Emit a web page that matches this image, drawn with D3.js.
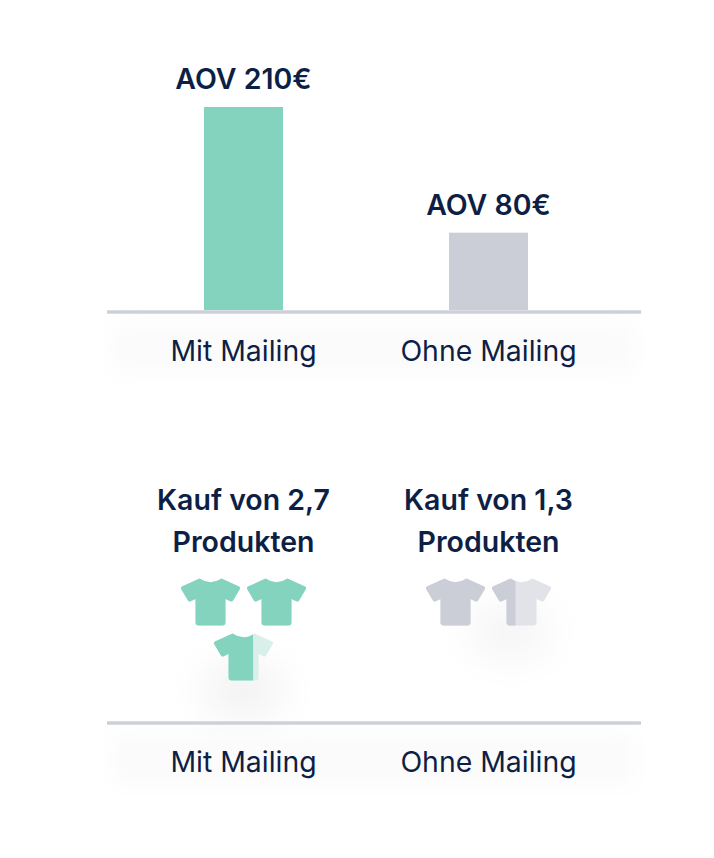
<!DOCTYPE html>
<html>
<head>
<meta charset="utf-8">
<script src="https://cdn.jsdelivr.net/npm/d3@7"></script>
<style>
  html, body { margin: 0; padding: 0; background: #fff; }
  svg { display: block; }
  text { font-family: Inter, "Noto Sans", sans-serif; fill: #0e1f45; }
  .title { font-size: 28.5px; font-weight: 600; text-anchor: middle; }
  .tick text { font-size: 28.4px; font-weight: 400; }
</style>
</head>
<body>
<div id="chart"></div>
<script>
const categories = ["Mit Mailing", "Ohne Mailing"];
const aov = [210, 80];
const aovLabels = ["AOV 210€", "AOV 80€"];
const productLines = [["Kauf von 2,7", "Produkten"], ["Kauf von 1,3", "Produkten"]];
// how much of each shirt is filled
const shirtFill = [[1, 1, 0.66], [1, 0.4]];
const colors = ["#83d3bf", "#cbced7"];
const lightColors = ["#d9f0ea", "#e1e3e8"];

const width = 714, height = 858;
const baseTop = 310, baseBottom = 721;

const svg = d3.select("#chart").append("svg")
    .attr("width", width)
    .attr("height", height);

const defs = svg.append("defs");
defs.append("filter").attr("id", "soft")
    .attr("x", "-50%").attr("y", "-50%").attr("width", "200%").attr("height", "200%")
    .append("feGaussianBlur").attr("stdDeviation", 12);
defs.append("filter").attr("id", "softer")
    .attr("x", "-80%").attr("y", "-80%").attr("width", "260%").attr("height", "260%")
    .append("feGaussianBlur").attr("stdDeviation", 22);

const x = d3.scaleBand()
    .domain(categories)
    .range([121, 611])
    .paddingInner(0.6776)
    .paddingOuter(0.3388);

const y = d3.scaleLinear().domain([0, 210]).range([baseTop, 107]);

// faint bands behind the axis labels
[baseTop, baseBottom].forEach((b) => {
    svg.append("rect")
        .attr("x", 112).attr("y", b + 12)
        .attr("width", 524).attr("height", 52)
        .attr("fill", "#fbfbfc")
        .attr("filter", "url(#soft)");
});

// shadows under the shirts
svg.append("ellipse")
    .attr("cx", 243).attr("cy", 690).attr("rx", 38).attr("ry", 22)
    .attr("fill", "#ededef").attr("filter", "url(#softer)");
svg.append("ellipse")
    .attr("cx", 510).attr("cy", 632).attr("rx", 38).attr("ry", 22)
    .attr("fill", "#f1f1f3").attr("filter", "url(#softer)");

// top chart
svg.selectAll(".bar")
    .data(categories)
    .enter()
    .append("rect")
    .attr("class", "bar")
    .attr("x", (d) => x(d))
    .attr("y", (d, i) => y(aov[i]))
    .attr("width", x.bandwidth())
    .attr("height", (d, i) => y(0) - y(aov[i]))
    .attr("fill", (d, i) => colors[i]);

svg.selectAll(".title.aov")
    .data(aovLabels)
    .enter()
    .append("text")
    .attr("class", "title aov")
    .attr("x", (d, i) => x(categories[i]) + x.bandwidth() / 2)
    .attr("y", (d, i) => y(aov[i]) - 18)
    .text((d) => d);

// bottom chart
const lineHeight = 42;
categories.forEach((c, i) => {
    svg.selectAll(".title.p" + i)
        .data(productLines[i])
        .enter()
        .append("text")
        .attr("class", "title p" + i)
        .attr("x", x(c) + x.bandwidth() / 2)
        .attr("y", (d, j) => 510 + j * lineHeight)
        .text((d) => d);
});

const shirtPath = "M19 .6Q30 8 41 .6L58.6 8.6Q60 9.6 59.4 11L52.6 22.6Q51.8 24 50.2 23.4L45 21V44.5Q45 47.5 42 47.5H18Q15 47.5 15 44.5V21L9.8 23.4Q8.2 24 7.4 22.6L.6 11Q0 9.6 1.4 8.6Z";
const shirtW = 60, gapX = 66, gapY = 55;

categories.forEach((c, i) => {
    const cx = x(c) + x.bandwidth() / 2;
    shirtFill[i].forEach((f, j) => {
        const row = Math.floor(j / 2);
        // a single shirt on a row gets centred
        const col = row === 0 ? j - 0.5 : 0;
        const g = svg.append("g")
            .attr("transform", `translate(${cx + col * gapX - shirtW / 2},${578 + row * gapY})`);
        g.append("path").attr("d", shirtPath).attr("fill", lightColors[i]);
        const id = `clip-${i}-${j}`;
        defs.append("clipPath").attr("id", id)
            .append("rect").attr("x", -1).attr("width", shirtW * f + 1).attr("height", 50);
        g.append("path").attr("d", shirtPath).attr("fill", colors[i])
            .attr("clip-path", `url(#${id})`);
    });
});

// axes
[baseTop, baseBottom].forEach((b) => {
    const axis = svg.append("g")
        .attr("transform", `translate(0,${b + 2})`)
        .call(d3.axisBottom(x).tickSize(0).tickPadding(29));
    axis.select(".domain")
        .attr("d", "M107,0H641")
        .attr("stroke", "#cdd0d9")
        .attr("stroke-width", 3.5);
    axis.selectAll(".tick text")
        .attr("font-family", null)
        .attr("font-size", null)
        .attr("fill", null);
});
</script>
</body>
</html>
